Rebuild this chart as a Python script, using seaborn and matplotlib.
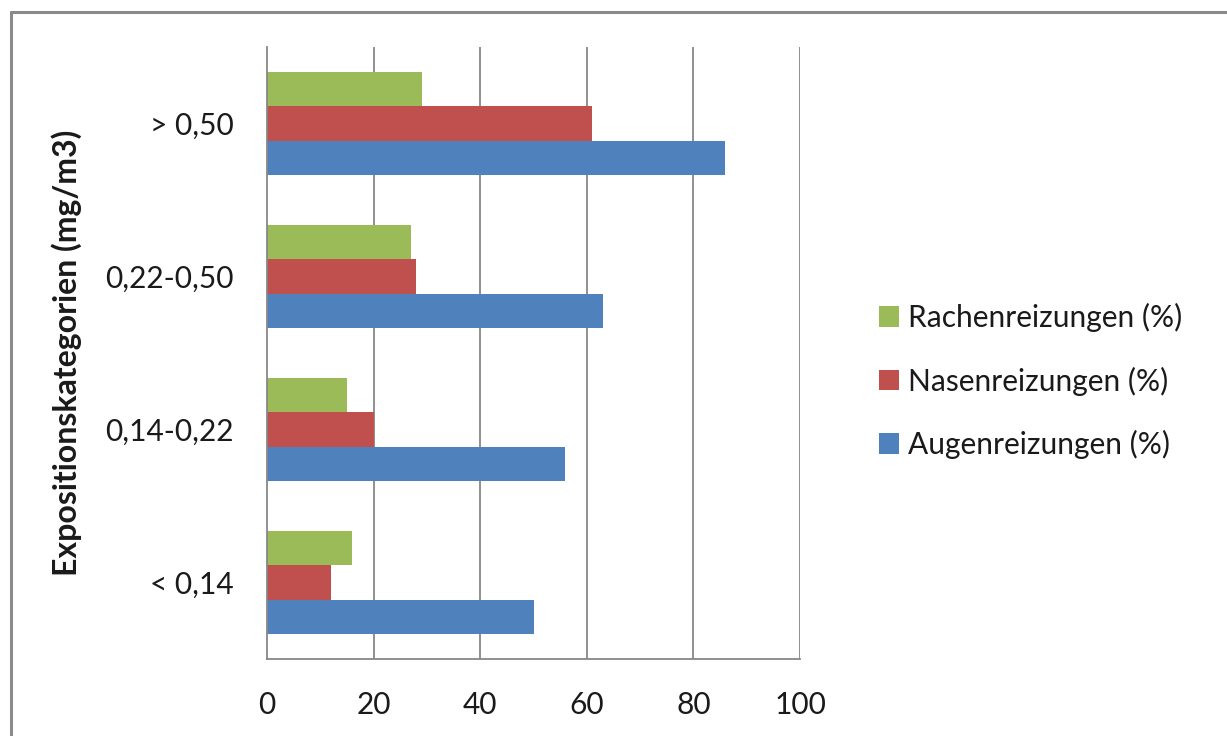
import pandas as pd
import matplotlib.pyplot as plt
from matplotlib.lines import Line2D
from matplotlib.patches import Patch
import seaborn as sns

# Data
categories = ["> 0,50", "0,22-0,50", "0,14-0,22", "< 0,14"]
series = ["Rachenreizungen (%)", "Nasenreizungen (%)", "Augenreizungen (%)"]
rachen = [29, 27, 15, 16]
nasen = [61, 28, 20, 12]
augen = [86, 63, 56, 50]
colors = ["#9BBB59", "#C0504D", "#4F81BD"]
x_ticks = [0, 20, 40, 60, 80, 100]

df = pd.DataFrame({
    "Kategorie": categories * 3,
    "Serie": [series[0]] * 4 + [series[1]] * 4 + [series[2]] * 4,
    "Wert": rachen + nasen + augen,
})

sns.set_style("white")
plt.rcParams["font.family"] = ["Lato", "DejaVu Sans"]

W, H = 1227, 736
FS = 21.5
txt_c = "#1a1a1a"
fig = plt.figure(figsize=(W / 100, H / 100), dpi=100)
ax = fig.add_axes([267 / W, 77 / H, (800 - 267) / W, (659 - 47) / H])

sns.barplot(data=df, y="Kategorie", x="Wert", hue="Serie", order=categories,
            hue_order=series, palette=colors, orient="h", width=0.667,
            saturation=1, legend=False, ax=ax, edgecolor="none")

grid_c = "#878787"
ax.set_xlim(0, 100)
ax.set_ylim(3.5, -0.5)
ax.set_xticks(x_ticks)
ax.set_xticklabels([str(t) for t in x_ticks])
for t in x_ticks[1:]:
    ax.axvline(t, color=grid_c, lw=1.3, zorder=0)

ax.set_yticks(range(len(categories)))
ax.set_yticklabels(categories)
ax.set_yticks([i - 0.5 for i in range(len(categories) + 1)], minor=True)
ax.tick_params(axis="y", which="major", length=0, pad=24, labelsize=FS, labelcolor=txt_c)
ax.tick_params(axis="y", which="minor", length=12, width=1.3, color=grid_c)
ax.tick_params(axis="x", which="major", length=11, width=1.3, color=grid_c, pad=12,
               labelsize=FS, labelcolor=txt_c)

for side in ["top", "right"]:
    ax.spines[side].set_visible(False)
for side in ["left", "bottom"]:
    ax.spines[side].set_color(grid_c)
    ax.spines[side].set_linewidth(1.3)

ax.set_xlabel("")
ax.set_ylabel("Expositionskategorien (mg/m3)", fontsize=23, fontweight="bold", color=txt_c)
ax.yaxis.set_label_coords((82 - 267) / (800 - 267), 0.5)

handles = [Patch(facecolor=c, edgecolor="none") for c in colors]
fig.legend(handles, series, loc="upper left", bbox_to_anchor=(879 / W, 1 - 303 / H),
           frameon=False, fontsize=FS, borderpad=0, borderaxespad=0,
           handlelength=0.67, handleheight=0.67, handletextpad=0.3,
           labelspacing=1.15, labelcolor=txt_c)

# outer chart border (only top and left visible in the reference)
border_c = "#8a8a8a"
fig.add_artist(Line2D([10.5 / W, 1], [1 - 11.5 / H, 1 - 11.5 / H], color=border_c, lw=2.2))
fig.add_artist(Line2D([10.5 / W, 10.5 / W], [0, 1 - 11.5 / H], color=border_c, lw=2.2))

fig.savefig("out.png", dpi=100, facecolor="white")
